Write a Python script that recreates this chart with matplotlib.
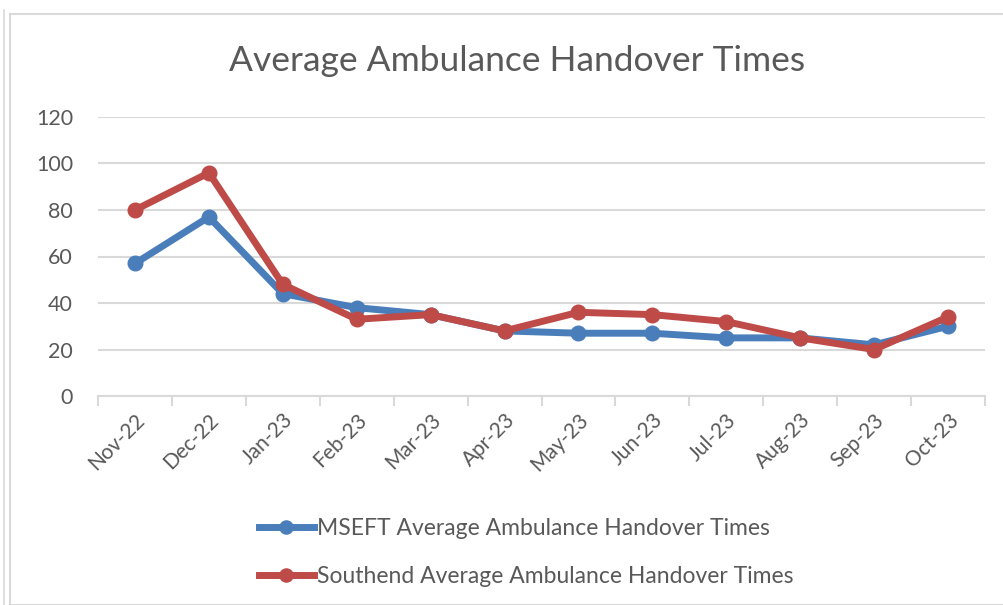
import matplotlib
matplotlib.use("Agg")
import matplotlib.pyplot as plt
from matplotlib.patches import Rectangle
from matplotlib.lines import Line2D

months = ["Nov-22", "Dec-22", "Jan-23", "Feb-23", "Mar-23", "Apr-23",
          "May-23", "Jun-23", "Jul-23", "Aug-23", "Sep-23", "Oct-23"]
mseft = [57, 77, 44, 38, 35, 28, 27, 27, 25, 25, 22, 30]
southend = [80, 96, 48, 33, 35, 28, 36, 35, 32, 25, 20, 34]
yticks = [0, 20, 40, 60, 80, 100, 120]

BLUE = "#4A7EBB"
RED = "#BE4B48"
TXT = "#595959"
plt.rcParams['font.family'] = ['Lato', 'DejaVu Sans']

W, H = 1004, 605
fig = plt.figure(figsize=(W/100, H/100), dpi=100)
fig.patch.set_facecolor("white")

# chart frame
fig.add_artist(Rectangle((10/W, 0), 1.2, 1 - 14/H, transform=fig.transFigure,
                         fill=False, edgecolor="#D9D9D9", linewidth=1.5))
fig.add_artist(Line2D([4/W, 4/W], [0, 1 - 10/H], transform=fig.transFigure,
                      color="#D9D9D9", linewidth=1.2))

left, right, top, bottom = 98, 985, 117, 396
ax = fig.add_axes([left/W, 1 - bottom/H, (right-left)/W, (bottom-top)/H])
x = list(range(len(months)))
ax.plot(x, mseft, color=BLUE, lw=5, marker="o", ms=10.5, solid_joinstyle="round",
        label="MSEFT Average Ambulance Handover Times", zorder=3)
ax.plot(x, southend, color=RED, lw=5, marker="o", ms=10.5, solid_joinstyle="round",
        label="Southend Average Ambulance Handover Times", zorder=4)

ax.set_xlim(-0.5, len(months) - 0.5)
ax.set_ylim(0, 120)
ax.set_yticks(yticks)
ax.set_yticklabels([str(v) for v in yticks], fontsize=15.5, color=TXT)
ax.tick_params(axis="y", length=0, pad=18)
ax.grid(axis="y", color="#D9D9D9", lw=1.5)
ax.set_axisbelow(True)
for s in ["top", "right", "left"]:
    ax.spines[s].set_visible(False)
ax.spines["bottom"].set_color("#D9D9D9")
ax.spines["bottom"].set_linewidth(1.5)

ax.set_xticks(x)
ax.set_xticklabels(months, rotation=45, ha="right", rotation_mode="anchor",
                   fontsize=15, color=TXT)
ax.tick_params(axis="x", length=0, pad=10)
ax.set_xticks([i - 0.5 for i in range(len(months) + 1)], minor=True)
ax.tick_params(axis="x", which="minor", length=7, width=1.5, color="#D9D9D9", direction="out")

fig.text(517/W, 1 - 61/H, "Average Ambulance Handover Times", ha="center", va="center",
         fontsize=25.5, color=TXT)

handles, labels = ax.get_legend_handles_labels()
leg = fig.legend(handles, labels, loc="upper left", bbox_to_anchor=(238/W, 1 - 497/H),
                 frameon=False, fontsize=16.5, labelcolor=TXT, handlelength=2.4,
                 handletextpad=0.15, labelspacing=1.2, markerscale=0.9)

fig.savefig("out.png", dpi=100, facecolor="white")
